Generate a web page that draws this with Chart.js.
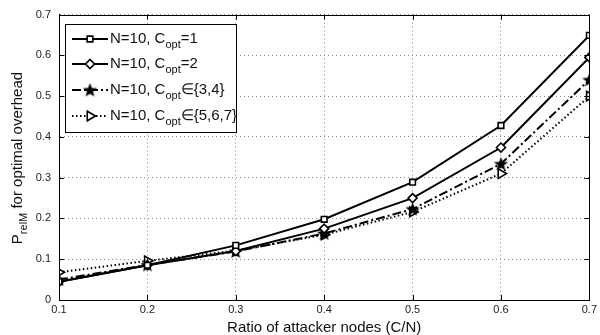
<!DOCTYPE html>
<html>
<head>
<meta charset="utf-8">
<script src="https://cdn.jsdelivr.net/npm/chart.js@4/dist/chart.umd.min.js"></script>
<style>
  html, body { margin: 0; padding: 0; background: #fff; }
  #wrap { width: 600px; height: 335px; }
</style>
</head>
<body>
<div id="wrap"><canvas id="chart" width="600" height="335"></canvas></div>
<script>
// data
var ratios = [0.1, 0.2, 0.3, 0.4, 0.5, 0.6, 0.7];
var copt1 = [0.045, 0.085, 0.134, 0.198, 0.289, 0.428, 0.649];
var copt2 = [0.045, 0.085, 0.120, 0.175, 0.250, 0.374, 0.595];
var copt34 = [0.050, 0.086, 0.119, 0.163, 0.223, 0.334, 0.540];
var copt567 = [0.068, 0.096, 0.121, 0.160, 0.216, 0.310, 0.500];
var legendTail = ['=1', '=2', '\u2208{3,4}', '\u2208{5,6,7}'];
var yTicks = [0, 0.1, 0.2, 0.3, 0.4, 0.5, 0.6, 0.7];

var FONT = 'Liberation Sans, Arial, Helvetica, sans-serif';

// filled five point star used as marker
function makeStar(size) {
  var c = document.createElement('canvas');
  c.width = size; c.height = size;
  var g = c.getContext('2d');
  var cx = size / 2, cy = size / 2 + 0.5, ro = size / 2, ri = ro * 0.42;
  g.beginPath();
  for (var i = 0; i < 10; i++) {
    var r = i % 2 ? ri : ro;
    var a = -Math.PI / 2 + i * Math.PI / 5;
    g.lineTo(cx + r * Math.cos(a), cy + r * Math.sin(a));
  }
  g.closePath();
  g.fillStyle = '#000';
  g.fill();
  return c;
}
var star = makeStar(15);

function pts(arr) {
  return arr.map(function (v, i) { return { x: ratios[i], y: v }; });
}

var datasets = [
  { data: pts(copt1), borderDash: [], pointStyle: 'rect', pointRadius: 4, rotation: 0, pointBackgroundColor: '#fff' },
  { data: pts(copt2), borderDash: [], pointStyle: 'rectRot', pointRadius: 4.5, rotation: 0, pointBackgroundColor: '#fff' },
  { data: pts(copt34), borderDash: [9, 3, 2, 3], pointStyle: star, pointRadius: 7, rotation: 0, pointBackgroundColor: '#000' },
  { data: pts(copt567), borderDash: [1.5, 2.5], pointStyle: 'triangle', pointRadius: 5.5, rotation: 90, pointBackgroundColor: '#fff' }
].map(function (d) {
  d.borderColor = '#000';
  d.borderWidth = 2;
  d.pointBorderColor = '#000';
  d.pointBorderWidth = 1.6;
  d.pointRotation = d.rotation;
  d.tension = 0;
  return d;
});

// text with a subscript part, drawn left to right
function drawSubText(ctx, x, y, main, sub, tail, size, subSize) {
  ctx.font = size + 'px ' + FONT;
  ctx.fillText(main, x, y);
  x += ctx.measureText(main).width;
  ctx.font = subSize + 'px ' + FONT;
  ctx.fillText(sub, x, y + size * 0.32);
  x += ctx.measureText(sub).width;
  ctx.font = size + 'px ' + FONT;
  ctx.fillText(tail, x, y);
  return x + ctx.measureText(tail).width;
}

var decorations = {
  id: 'decorations',
  afterDraw: function (chart) {
    var ctx = chart.ctx, a = chart.chartArea;
    var xs = chart.scales.x, ys = chart.scales.y;
    ctx.save();
    // box and inward ticks
    ctx.strokeStyle = '#000';
    ctx.lineWidth = 1;
    ctx.setLineDash([]);
    ctx.strokeRect(Math.round(a.left) + 0.5, Math.round(a.top) + 0.5,
      Math.round(a.right - a.left), Math.round(a.bottom - a.top));
    ctx.beginPath();
    ratios.forEach(function (v) {
      var px = Math.round(xs.getPixelForValue(v)) + 0.5;
      ctx.moveTo(px, a.bottom); ctx.lineTo(px, a.bottom - 5);
      ctx.moveTo(px, a.top); ctx.lineTo(px, a.top + 5);
    });
    yTicks.forEach(function (v) {
      var py = Math.round(ys.getPixelForValue(v)) + 0.5;
      ctx.moveTo(a.left, py); ctx.lineTo(a.left + 5, py);
      ctx.moveTo(a.right, py); ctx.lineTo(a.right - 5, py);
    });
    ctx.stroke();

    // axis titles
    ctx.fillStyle = '#111';
    ctx.textBaseline = 'alphabetic';
    ctx.font = '15px ' + FONT;
    ctx.textAlign = 'center';
    ctx.fillText('Ratio of attacker nodes (C/N)', (a.left + a.right) / 2, 332);
    ctx.textAlign = 'left';
    ctx.save();
    ctx.translate(22, 0);
    ctx.rotate(-Math.PI / 2);
    var w = 0;
    ctx.font = '15px ' + FONT;
    w += ctx.measureText('P').width + ctx.measureText(' for optimal overhead').width;
    ctx.font = '11px ' + FONT;
    w += ctx.measureText('relM').width;
    drawSubText(ctx, -158 - w / 2, 0, 'P', 'relM', ' for optimal overhead', 15, 11);
    ctx.restore();

    // legend
    var lx = 65, ly = 24, lw = 171, lh = 108;
    ctx.fillStyle = '#fff';
    ctx.fillRect(lx, ly, lw, lh);
    ctx.strokeRect(lx + 0.5, ly + 0.5, lw, lh);
    var rows = [39, 64, 90, 116];
    chart.data.datasets.forEach(function (ds, i) {
      var cy = rows[i];
      ctx.strokeStyle = '#000';
      ctx.lineWidth = 2;
      ctx.setLineDash(ds.borderDash);
      ctx.beginPath();
      ctx.moveTo(72, cy); ctx.lineTo(108, cy);
      ctx.stroke();
      ctx.setLineDash([]);
      ctx.lineWidth = ds.pointBorderWidth;
      ctx.fillStyle = ds.pointBackgroundColor;
      Chart.helpers.drawPoint(ctx, {
        pointStyle: ds.pointStyle, rotation: ds.rotation,
        radius: ds.pointRadius, borderWidth: ds.pointBorderWidth
      }, 90, cy);
      ctx.fillStyle = '#111';
      ctx.textAlign = 'left';
      ctx.textBaseline = 'alphabetic';
      drawSubText(ctx, 110, cy + 4, 'N=10, C', 'opt', legendTail[i], 15, 11);
    });
    ctx.restore();
  }
};

var tickFont = { family: FONT, size: 11 };
var gridOpts = { color: '#8a8a8a', lineWidth: 1, drawTicks: false };
var borderOpts = { display: true, color: '#000', width: 1, dash: [1, 3] };

new Chart(document.getElementById('chart'), {
  type: 'line',
  data: { datasets: datasets },
  options: {
    responsive: false,
    animation: false,
    layout: { padding: { left: 0, right: 9, top: 11, bottom: 0 } },
    plugins: { legend: { display: false }, tooltip: { enabled: false } },
    scales: {
      x: {
        type: 'linear', min: 0.1, max: 0.7,
        afterBuildTicks: function (s) { s.ticks = ratios.map(function (v) { return { value: v }; }); },
        afterFit: function (s) { s.height = 35; },
        ticks: { font: tickFont, color: '#222', padding: 3, maxRotation: 0,
          callback: function (v) { return v.toFixed(1); } },
        grid: gridOpts,
        border: borderOpts
      },
      y: {
        min: 0, max: 0.7,
        afterBuildTicks: function (s) { s.ticks = yTicks.map(function (v) { return { value: v }; }); },
        afterFit: function (s) { s.width = 59; },
        ticks: { font: tickFont, color: '#222', padding: 8,
          callback: function (v) { return v === 0 ? '0' : v.toFixed(1); } },
        grid: gridOpts,
        border: borderOpts
      }
    }
  },
  plugins: [decorations]
});
</script>
</body>
</html>
